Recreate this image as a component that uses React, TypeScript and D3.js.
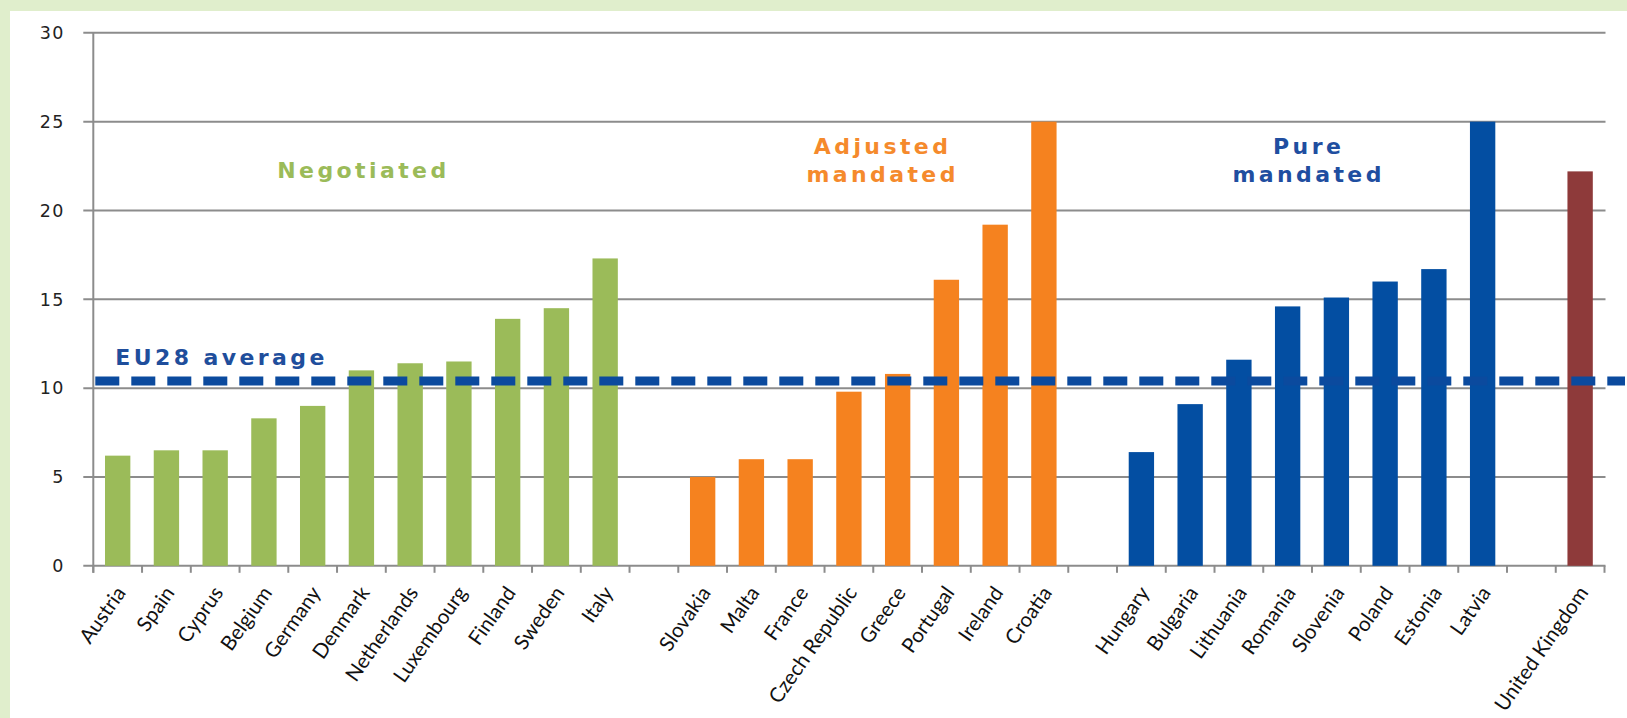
import React from "react";
import * as d3 from "d3";

// ---- Data ----
const negotiatedCountries = ["Austria", "Spain", "Cyprus", "Belgium", "Germany", "Denmark", "Netherlands", "Luxembourg", "Finland", "Sweden", "Italy"];
const negotiatedValues = [6.2, 6.5, 6.5, 8.3, 9.0, 11.0, 11.4, 11.5, 13.9, 14.5, 17.3];

const adjustedCountries = ["Slovakia", "Malta", "France", "Czech Republic", "Greece", "Portugal", "Ireland", "Croatia"];
const adjustedValues = [5.0, 6.0, 6.0, 9.8, 10.8, 16.1, 19.2, 25.0];

const pureCountries = ["Hungary", "Bulgaria", "Lithuania", "Romania", "Slovenia", "Poland", "Estonia", "Latvia"];
const pureValues = [6.4, 9.1, 11.6, 14.6, 15.1, 16.0, 16.7, 25.0];

const otherCountries = ["United Kingdom"];
const otherValues = [22.2];

const euAverage = 10.4;
const yTicks = [0, 5, 10, 15, 20, 25, 30];

const colors = {
  negotiated: "#9bbb59",
  adjusted: "#f5821f",
  pure: "#034ea2",
  other: "#8e3a3a",
  avg: "#0b4a9e",
  grid: "#8c8c8c",
};

type Bar = { country: string; value: number; color: string };

const bars: Bar[] = [
  ...negotiatedCountries.map((c, i) => ({ country: c, value: negotiatedValues[i], color: colors.negotiated })),
  ...adjustedCountries.map((c, i) => ({ country: c, value: adjustedValues[i], color: colors.adjusted })),
  ...pureCountries.map((c, i) => ({ country: c, value: pureValues[i], color: colors.pure })),
  ...otherCountries.map((c, i) => ({ country: c, value: otherValues[i], color: colors.other })),
];

const slots: string[] = [
  ...negotiatedCountries,
  "__gap1",
  ...adjustedCountries,
  "__gap2",
  ...pureCountries,
  "__gap3",
  ...otherCountries,
];

const W = 1627;
const H = 718;
const X0 = 93.3;
const X1 = 1604.5;
const Y0 = 565.8;
const Y1 = 32.8;

export default function App() {
  const x = d3
    .scaleBand<string>()
    .domain(slots)
    .range([X0, X1])
    .paddingInner(0.48)
    .paddingOuter(0.24);
  const y = d3.scaleLinear().domain([0, 30]).range([Y0, Y1]);
  const step = x.step();
  const boundaries = slots.map((s) => (x(s) as number) - step * 0.24).concat([X1]);
  const center = (c: string) => (x(c) as number) + x.bandwidth() / 2;

  const groupFont = "'DejaVu Sans', Verdana, sans-serif";

  return (
    <div style={{ position: "absolute", left: 0, top: 0 }}>
      <svg width={W} height={H} style={{ display: "block" }}>
        <rect x={0} y={0} width={W} height={H} fill="#e0eecc" />
        <rect x={10} y={11} width={W - 10} height={H - 11} fill="#ffffff" />

        {/* gridlines */}
        {yTicks.map((t) => (
          <line key={"g" + t} x1={X0 - 10} x2={X1 + 1} y1={y(t)} y2={y(t)} stroke={colors.grid} strokeWidth={2} />
        ))}
        {/* y axis */}
        <line x1={X0} x2={X0} y1={Y1} y2={Y0 + 7} stroke={colors.grid} strokeWidth={2} />
        {/* x ticks */}
        {boundaries.map((b, i) => (
          <line key={"xt" + i} x1={b} x2={b} y1={Y0} y2={Y0 + 7} stroke={colors.grid} strokeWidth={2} />
        ))}
        {/* y tick labels */}
        {yTicks.map((t) => (
          <text
            key={"yl" + t}
            x={65}
            y={y(t)}
            dy="0.36em"
            textAnchor="end"
            fontFamily={groupFont}
            fontSize={17.5}
            letterSpacing={1.5}
            fill="#222"
          >
            {t}
          </text>
        ))}

        {/* bars */}
        {bars.map((b) => (
          <rect
            key={b.country}
            x={x(b.country)}
            y={y(b.value)}
            width={x.bandwidth()}
            height={y(0) - y(b.value)}
            fill={b.color}
          />
        ))}

        {/* x labels */}
        {bars.map((b) => {
          const cx = center(b.country) + 9;
          const cy = Y0 + 27;
          return (
            <text
              key={"xl" + b.country}
              x={cx}
              y={cy}
              transform={`rotate(-55, ${cx}, ${cy})`}
              textAnchor="end"
              fontFamily="Lato, 'Open Sans', sans-serif"
              fontSize={20.5}
              fill="#111"
            >
              {b.country}
            </text>
          );
        })}

        {/* EU average dashed line */}
        <line
          x1={X0}
          x2={W - 2}
          y1={y(euAverage)}
          y2={y(euAverage)}
          stroke={colors.avg}
          strokeWidth={9}
          strokeDasharray="24 12"
          strokeDashoffset={-2}
        />
        <text
          x={X0 + 22}
          y={y(euAverage) - 16}
          fontFamily={groupFont}
          fontWeight="bold"
          fontSize={22}
          letterSpacing={3.4}
          fill="#1f4e9c"
        >
          EU28 average
        </text>

        {/* group labels */}
        <text
          x={center("Denmark") + 2}
          y={177.5}
          textAnchor="middle"
          fontFamily={groupFont}
          fontWeight="bold"
          fontSize={22}
          letterSpacing={3.4}
          fill={colors.negotiated}
        >
          Negotiated
        </text>
        <text
          textAnchor="middle"
          fontFamily={groupFont}
          fontWeight="bold"
          fontSize={22}
          letterSpacing={3.4}
          fill="#f58a2c"
        >
          <tspan x={center("Czech Republic") + 0.65 * step + 2} y={153.5}>Adjusted</tspan>
          <tspan x={center("Czech Republic") + 0.65 * step + 2} y={181.5}>mandated</tspan>
        </text>
        <text
          textAnchor="middle"
          fontFamily={groupFont}
          fontWeight="bold"
          fontSize={22}
          letterSpacing={3.4}
          fill="#1f4ea0"
        >
          <tspan x={center("Romania") + 0.39 * step + 2} y={153.5}>Pure</tspan>
          <tspan x={center("Romania") + 0.39 * step + 2} y={181.5}>mandated</tspan>
        </text>
      </svg>
    </div>
  );
}
